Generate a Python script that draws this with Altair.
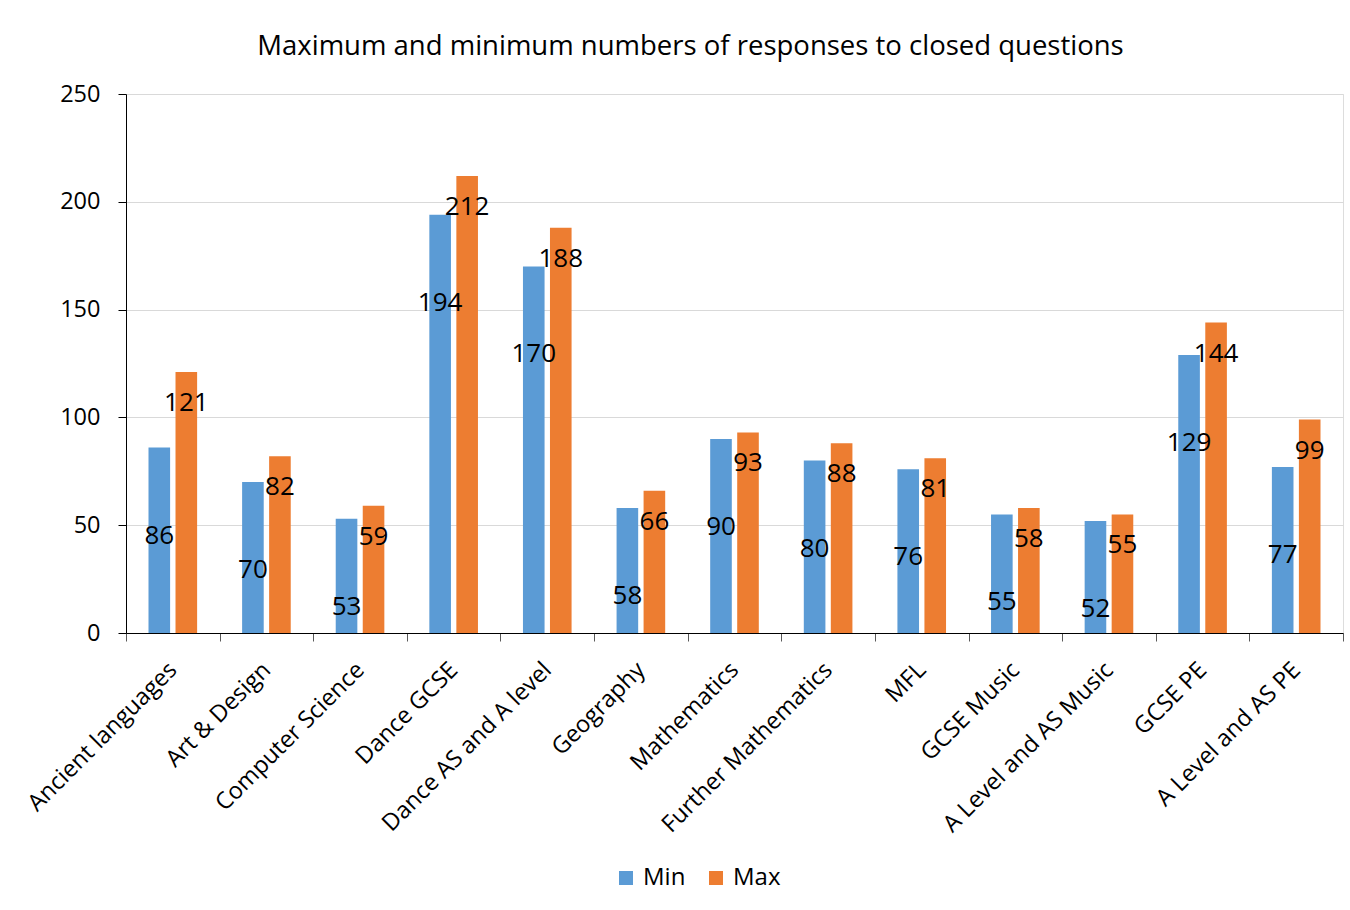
import altair as alt
import pandas as pd

categories = ["Ancient languages", "Art & Design", "Computer Science", "Dance GCSE",
              "Dance AS and A level", "Geography", "Mathematics", "Further Mathematics",
              "MFL", "GCSE Music", "A Level and AS Music", "GCSE PE", "A Level and AS PE"]
min_values = [86, 70, 53, 194, 170, 58, 90, 80, 76, 55, 52, 129, 77]
max_values = [121, 82, 59, 212, 188, 66, 93, 88, 81, 58, 55, 144, 99]
series_names = ["Min", "Max"]
series_colors = ["#5B9BD5", "#ED7D31"]
y_ticks = [0, 50, 100, 150, 200, 250]
title_text = "Maximum and minimum numbers of responses to closed questions"

rows = []
for c, mn, mx in zip(categories, min_values, max_values):
    rows.append({"Subject": c, "Series": "Min", "Value": mn})
    rows.append({"Subject": c, "Series": "Max", "Value": mx})
df = pd.DataFrame(rows)

FONT = "Open Sans"

x_enc = alt.X("Subject:N", sort=categories,
              scale=alt.Scale(paddingInner=0, paddingOuter=0),
              axis=alt.Axis(title=None, labelAngle=-45, labelFontSize=23.5, labelColor="#000000",
                            labelFont=FONT, tickBand="extent", tickSize=8, tickColor="#595959",
                            domainColor="#000000", labelPadding=25, labelBaseline="middle",
                            labelLimit=400))
xoff_enc = alt.XOffset("Series:N", sort=series_names,
                       scale=alt.Scale(domain=series_names, paddingInner=0.2, paddingOuter=0.833))
y_enc = alt.Y("Value:Q", scale=alt.Scale(domain=[0, 250], nice=False),
              axis=alt.Axis(title=None, values=y_ticks, grid=True, gridColor="#D9D9D9",
                            labelFontSize=23.5, labelColor="#000000", labelFont=FONT,
                            tickSize=8, tickColor="#000000", domainColor="#000000",
                            labelPadding=18))
color_enc = alt.Color("Series:N", sort=series_names,
                      scale=alt.Scale(domain=series_names, range=series_colors),
                      legend=alt.Legend(title=None, orient="none", legendX=488, legendY=772,
                                        direction="horizontal", symbolType="square",
                                        symbolSize=196, symbolStrokeWidth=0,
                                        labelFontSize=24, labelFont=FONT, labelColor="#000000",
                                        labelOffset=5, columnPadding=18))

base = alt.Chart(df)

bars = base.mark_bar().encode(x=x_enc, xOffset=xoff_enc, y=y_enc, color=color_enc)

label_max = base.transform_filter(alt.datum.Series == "Max").mark_text(
    fontSize=26, font=FONT, baseline="middle", dy=31, color="#000000"
).encode(x=x_enc, xOffset=xoff_enc, y=y_enc, text="Value:Q")

label_min = base.transform_filter(alt.datum.Series == "Min").mark_text(
    fontSize=26, font=FONT, baseline="middle", dy=88, color="#000000"
).encode(x=x_enc, xOffset=xoff_enc, y=y_enc, text="Value:Q")

chart = alt.layer(bars, label_max, label_min).properties(
    width=1217, height=539,
    padding={"left": 126, "top": 94, "right": 7, "bottom": 277},
    autosize=alt.AutoSizeParams(type="none"),
    title=alt.Title(title_text, fontSize=27.5, font=FONT, fontWeight="normal",
                    color="#000000", anchor="middle", dx=-44, offset=22),
).configure_view(stroke=None).configure(background="white")

chart.save("out.html", embed_options={"renderer": "svg", "actions": False})
